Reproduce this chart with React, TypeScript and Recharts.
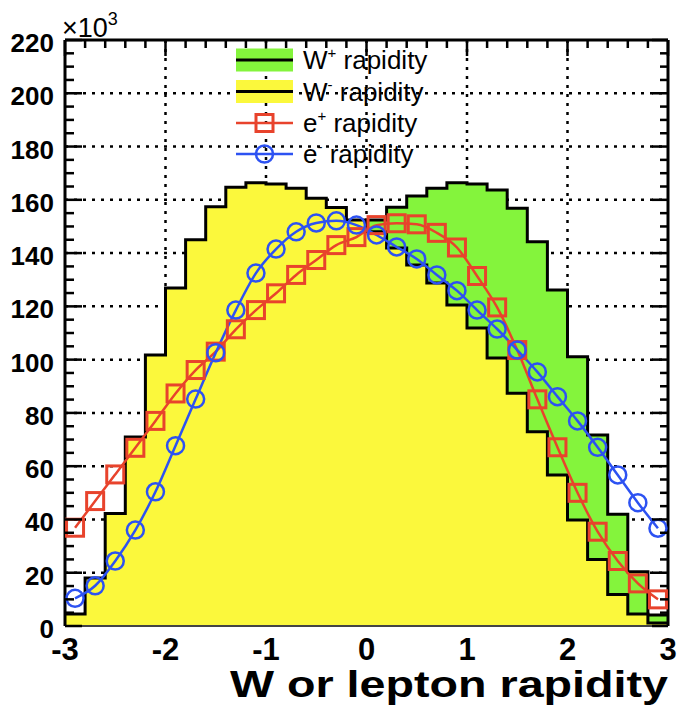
import React from 'react'
import { ComposedChart, Area, Line, XAxis, YAxis, CartesianGrid } from 'recharts'

// bin edges and centres (rapidity), bins of 0.2
const binEdges = [-3, -2.8, -2.6, -2.4, -2.2, -2, -1.8, -1.6, -1.4, -1.2, -1, -0.8, -0.6, -0.4, -0.2, 0, 0.2, 0.4, 0.6, 0.8, 1, 1.2, 1.4, 1.6, 1.8, 2, 2.2, 2.4, 2.6, 2.8, 3]
const binCenters = [-2.9, -2.7, -2.5, -2.3, -2.1, -1.9, -1.7, -1.5, -1.3, -1.1, -0.9, -0.7, -0.5, -0.3, -0.1, 0.1, 0.3, 0.5, 0.7, 0.9, 1.1, 1.3, 1.5, 1.7, 1.9, 2.1, 2.3, 2.5, 2.7, 2.9]

// entries per bin, x10^3
const wPlus = [1.1, 4.5, 11.8, 25, 39.8, 56.7, 72.9, 87.4, 100.6, 111.9, 120.5, 128.8, 135.5, 141.9, 148, 152.4, 157.2, 161.4, 164.3, 166.4, 165.9, 163.7, 156.8, 144.3, 126.1, 101.1, 71.7, 42, 20.4, 4.1]
const wMinus = [4.5, 18, 42.2, 71, 101.7, 126.9, 145, 157.4, 164.7, 166.4, 165.9, 164.3, 160.6, 157.1, 152.4, 148, 141.9, 135.5, 128.8, 120.5, 111.9, 100.6, 87.4, 72.9, 56.7, 39.8, 25, 11.8, 4.5, 1.1]
const ePlus = [36.9, 46.9, 56.9, 66.9, 77, 87.3, 96.1, 103, 111.4, 118.6, 124.9, 131.8, 137.4, 143, 146, 150.5, 151.2, 150.8, 147.6, 142.1, 131.4, 119.6, 103.6, 85.1, 67.1, 50, 35.4, 24.4, 16, 10]
const eMinus = [10.4, 15.1, 24.4, 36, 50.4, 67.7, 85.2, 102.6, 118.6, 132.5, 141.5, 148, 151.3, 152.1, 150.5, 146.8, 142.3, 137.8, 131.8, 125.9, 118.6, 111.5, 103.6, 95.4, 86.1, 77, 67.1, 56.7, 46.3, 36.7]

// axis ticks
const xTicks = [-3, -2.8, -2.6, -2.4, -2.2, -2, -1.8, -1.6, -1.4, -1.2, -1, -0.8, -0.6, -0.4, -0.2, 0, 0.2, 0.4, 0.6, 0.8, 1, 1.2, 1.4, 1.6, 1.8, 2, 2.2, 2.4, 2.6, 2.8, 3]
const xLabels = [-3, -2, -1, 0, 1, 2, 3]
const yTicks = [0, 5, 10, 15, 20, 25, 30, 35, 40, 45, 50, 55, 60, 65, 70, 75, 80, 85, 90, 95, 100, 105, 110, 115, 120, 125, 130, 135, 140, 145, 150, 155, 160, 165, 170, 175, 180, 185, 190, 195, 200, 205, 210, 215, 220]
const gridX = [-2, -1, 0, 1, 2]
const gridY = [20, 40, 60, 80, 100, 120, 140, 160, 180, 200]

const GREEN = '#84f43c'
const YELLOW = '#fbf83c'
const RED = '#e8432c'
const BLUE = '#2d52f2'
const FONT = '"Liberation Sans", Arial, Helvetica, sans-serif'

// step histograms need a point per lower edge plus the closing edge
const rows = [
  ...binEdges.map((x, i) => ({ x, wPlus: wPlus[Math.min(i, 29)], wMinus: wMinus[Math.min(i, 29)] })),
  ...binCenters.map((x, i) => ({ x, ePlus: ePlus[i], eMinus: eMinus[i] })),
].sort((a, b) => a.x - b.x)

const isMajorX = (v: number) => Math.abs(v - Math.round(v)) < 1e-6

const BottomTick = (props: any) => {
  const { x, y, payload } = props
  return (
    <text x={x} y={y + 34} textAnchor="middle" fontSize={31} fontWeight="bold" fontFamily={FONT} fill="#000">
      {payload.value}
    </text>
  )
}

const TopTick = (props: any) => {
  const { x, y, payload } = props
  const len = isMajorX(payload.value) ? 16 : 8
  return <line x1={x} x2={x} y1={y} y2={y + len} stroke="#000" strokeWidth={2.5} />
}

const LeftTick = (props: any) => {
  const { x, y, payload } = props
  const major = payload.value % 20 === 0
  return (
    <g>
      <line x1={x} x2={x + (major ? 17 : 9)} y1={y} y2={y} stroke="#000" strokeWidth={2.5} />
      {major && (
        <text x={x - 11} y={y + 12} textAnchor="end" fontSize={26} fontWeight="bold" fontFamily={FONT} fill="#000">
          {payload.value}
        </text>
      )}
    </g>
  )
}

const RightTick = (props: any) => {
  const { x, y, payload } = props
  const len = payload.value % 20 === 0 ? 16 : 8
  return <line x1={x} x2={x - len} y1={y} y2={y} stroke="#000" strokeWidth={2.5} />
}

const SquareDot = (p: any) => {
  if (p.cx == null || p.cy == null || p.value == null) return <g key={`s${p.index}`} />
  return <rect key={`s${p.index}`} x={p.cx - 8.5} y={p.cy - 8.5} width={17} height={17} fill="none" stroke={RED} strokeWidth={3} />
}

const CircleDot = (p: any) => {
  if (p.cx == null || p.cy == null || p.value == null) return <g key={`c${p.index}`} />
  return <circle key={`c${p.index}`} cx={p.cx} cy={p.cy} r={8.5} fill="none" stroke={BLUE} strokeWidth={2.5} />
}

const legendRows = [
  { y: 60, label: 'W', sup: '+', kind: 'fill', color: GREEN },
  { y: 91.5, label: 'W', sup: '-', kind: 'fill', color: YELLOW },
  { y: 123, label: 'e', sup: '+', kind: 'square', color: RED },
  { y: 154, label: 'e', sup: '-', kind: 'circle', color: BLUE },
]

export default function App() {
  return (
    <div style={{ position: 'absolute', left: 0, top: 0, width: 679, height: 720, background: '#fff' }}>
      <ComposedChart width={679} height={720} data={rows} margin={{ top: 0, right: 0, bottom: 0, left: 0 }}>
        <CartesianGrid
          stroke="#000"
          strokeWidth={2.5}
          strokeDasharray="3 6"
          verticalCoordinatesGenerator={({ xAxis, offset }: any) =>
            gridX.map((v) =>
              typeof xAxis?.scale === 'function' ? xAxis.scale(v) : offset.left + ((v + 3) / 6) * offset.width
            )
          }
          horizontalCoordinatesGenerator={({ yAxis, offset }: any) =>
            gridY.map((v) =>
              typeof yAxis?.scale === 'function' ? yAxis.scale(v) : offset.top + (1 - v / 220) * offset.height
            )
          }
        />
        <XAxis
          dataKey="x"
          type="number"
          domain={[-3, 3]}
          allowDataOverflow
          ticks={xLabels}
          interval={0}
          height={94}
          tickSize={0}
          tickMargin={0}
          tick={<BottomTick />}
          axisLine={{ stroke: '#444', strokeWidth: 2 }}
        />
        <XAxis
          xAxisId="top"
          orientation="top"
          dataKey="x"
          type="number"
          domain={[-3, 3]}
          allowDataOverflow
          ticks={xTicks}
          interval={0}
          height={40}
          tickSize={0}
          tickMargin={0}
          tick={<TopTick />}
          axisLine={{ stroke: '#000', strokeWidth: 3 }}
        />
        <YAxis
          type="number"
          domain={[0, 220]}
          allowDataOverflow
          ticks={yTicks}
          interval={0}
          width={65}
          tickSize={0}
          tickMargin={0}
          tick={<LeftTick />}
          axisLine={{ stroke: '#000', strokeWidth: 3 }}
        />
        <YAxis
          yAxisId="right"
          orientation="right"
          type="number"
          domain={[0, 220]}
          allowDataOverflow
          ticks={yTicks}
          interval={0}
          width={11}
          tickSize={0}
          tickMargin={0}
          tick={<RightTick />}
          axisLine={{ stroke: '#000', strokeWidth: 3 }}
        />
        <Area
          type="stepAfter"
          dataKey="wPlus"
          connectNulls
          fill={GREEN}
          fillOpacity={1}
          stroke="#000"
          strokeWidth={3}
          dot={false}
          activeDot={false}
          isAnimationActive={false}
        />
        <Area
          type="stepAfter"
          dataKey="wMinus"
          connectNulls
          fill={YELLOW}
          fillOpacity={1}
          stroke="#000"
          strokeWidth={3}
          dot={false}
          activeDot={false}
          isAnimationActive={false}
        />
        <Line
          type="monotone"
          dataKey="ePlus"
          connectNulls
          stroke={RED}
          strokeWidth={2.5}
          dot={SquareDot}
          activeDot={false}
          isAnimationActive={false}
        />
        <Line
          type="monotone"
          dataKey="eMinus"
          connectNulls
          stroke={BLUE}
          strokeWidth={2.5}
          dot={CircleDot}
          activeDot={false}
          isAnimationActive={false}
        />
      </ComposedChart>

      <svg width={679} height={720} style={{ position: 'absolute', left: 0, top: 0, pointerEvents: 'none' }}>
        <text x={62} y={37} fontSize={27} fontFamily={FONT} fill="#000">
          ×10
          <tspan dy={-12} fontSize={18}>3</tspan>
        </text>

        {legendRows.map((r) => (
          <g key={r.label + r.sup}>
            {r.kind === 'fill' && (
              <>
                <rect x={236} y={r.y - 11.5} width={57} height={23} fill={r.color} />
                <line x1={236} x2={293} y1={r.y} y2={r.y} stroke="#000" strokeWidth={3} />
              </>
            )}
            {r.kind === 'square' && (
              <>
                <line x1={236} x2={293} y1={r.y} y2={r.y} stroke={r.color} strokeWidth={2.5} />
                <rect x={256} y={r.y - 8.5} width={17} height={17} fill="none" stroke={r.color} strokeWidth={3} />
              </>
            )}
            {r.kind === 'circle' && (
              <>
                <line x1={236} x2={293} y1={r.y} y2={r.y} stroke={r.color} strokeWidth={2.5} />
                <circle cx={264.5} cy={r.y} r={8.5} fill="none" stroke={r.color} strokeWidth={2.5} />
              </>
            )}
            <text x={303} y={r.y + 9} fontSize={26} fontFamily={FONT} fill="#000">
              {r.label}
              <tspan dy={-11} fontSize={15}>{r.sup}</tspan>
              <tspan dy={11}> rapidity</tspan>
            </text>
          </g>
        ))}

        <text
          x={668}
          y={697}
          textAnchor="end"
          fontSize={36}
          fontWeight="bold"
          fontFamily={FONT}
          fill="#000"
          textLength={438}
          lengthAdjust="spacingAndGlyphs"
        >
          W or lepton rapidity
        </text>
      </svg>
    </div>
  )
}
